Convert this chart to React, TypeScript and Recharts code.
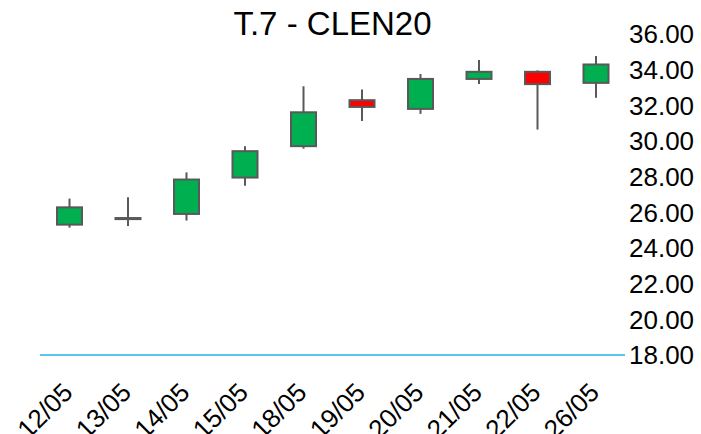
import React from "react";
import { ComposedChart, Bar, XAxis, YAxis } from "recharts";

const dates = ["12/05", "13/05", "14/05", "15/05", "18/05", "19/05", "20/05", "21/05", "22/05", "26/05"];
const openValues = [25.31, 25.62, 25.91, 27.95, 29.71, 32.29, 31.8, 33.48, 33.88, 33.26];
const highValues = [26.77, 26.85, 28.24, 29.71, 33.07, 32.89, 33.76, 34.54, 33.96, 34.76];
const lowValues = [25.14, 25.23, 25.54, 27.49, 29.57, 31.12, 31.52, 33.2, 30.64, 32.42];
const closeValues = [26.28, 25.68, 27.84, 29.43, 31.61, 31.91, 33.48, 33.88, 33.19, 34.29];
const yTicks = [18, 20, 22, 24, 26, 28, 30, 32, 34, 36];

const data = dates.map((d, i) => ({
  date: d,
  open: openValues[i],
  high: highValues[i],
  low: lowValues[i],
  close: closeValues[i],
  range: [lowValues[i], highValues[i]],
}));

const FONT = "'Liberation Sans', Arial, sans-serif";

const Candle = (props: any) => {
  const { x, y, width, height, payload } = props;
  const { open, close, high, low } = payload;
  const ppu = height / (high - low || 1);
  const yOf = (v: number) => y + (high - v) * ppu;
  const cx = x + width / 2;
  const top = yOf(Math.max(open, close));
  const bot = yOf(Math.min(open, close));
  const up = close >= open;
  return (
    <g>
      <line x1={cx} x2={cx} y1={y} y2={y + height} stroke="#595959" strokeWidth={2} />
      <rect
        x={x}
        y={top}
        width={width}
        height={Math.max(bot - top, 1)}
        fill={up ? "#00B050" : "#FF0000"}
        stroke="#595959"
        strokeWidth={2}
      />
    </g>
  );
};

const XTick = (props: any) => {
  const { x, y, payload } = props;
  const ax = x + 5;
  const ay = y + 31;
  return (
    <text
      x={ax}
      y={ay}
      textAnchor="end"
      transform={`rotate(-45, ${ax}, ${ay})`}
      fontSize={26}
      fontFamily={FONT}
      fill="#000"
    >
      {payload.value}
    </text>
  );
};

export default function App() {
  return (
    <div style={{ position: "absolute", left: 0, top: 0, width: 701, height: 434, background: "#fff" }}>
      <div
        style={{
          position: "absolute",
          left: 40,
          width: 585,
          top: 5,
          textAlign: "center",
          fontFamily: FONT,
          fontSize: 33,
          lineHeight: "38px",
          color: "#000",
        }}
      >
        T.7 - CLEN20
      </div>
      <ComposedChart
        width={701}
        height={434}
        data={data}
        margin={{ top: 34, right: 0, left: 40, bottom: 0 }}
      >
        <XAxis
          dataKey="date"
          interval={0}
          height={79}
          tickLine={false}
          axisLine={{ stroke: "#1FB4E8", strokeWidth: 1.5 }}
          tick={<XTick />}
        />
        <YAxis
          orientation="right"
          width={76}
          domain={[18, 36]}
          ticks={yTicks}
          axisLine={false}
          tickLine={false}
          tickSize={0}
          tickMargin={4}
          tickFormatter={(v: number) => v.toFixed(2)}
          tick={{ fontSize: 26, fontFamily: FONT, fill: "#000" }}
        />
        <Bar dataKey="range" barSize={25} shape={<Candle />} isAnimationActive={false} />
      </ComposedChart>
    </div>
  );
}
